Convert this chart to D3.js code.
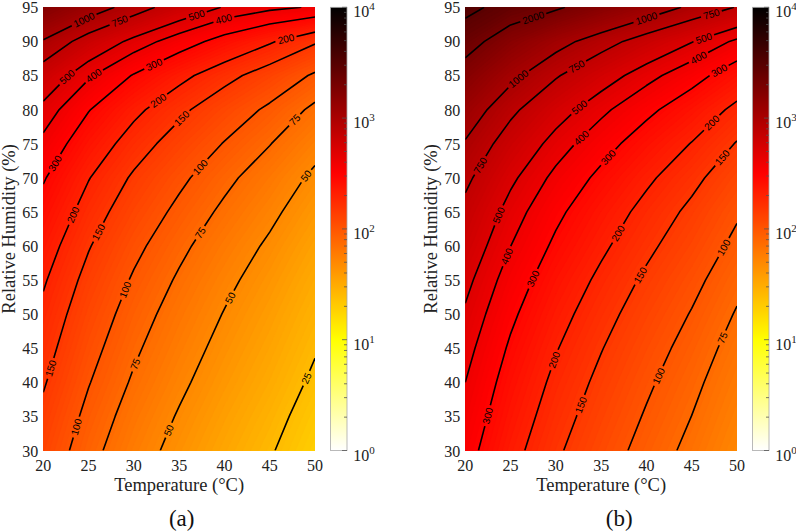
<!DOCTYPE html>
<html><head><meta charset="utf-8">
<script src="https://cdn.jsdelivr.net/npm/d3@7"></script>
<style>body{margin:0;background:#fff}svg{display:block}</style>
</head><body>
<svg id="chart" width="796" height="531"></svg>
<script>
// ---------------- data ----------------
const temperatures = [20, 25, 30, 35, 40, 45, 50];
const humidities = [30, 35, 40, 45, 50, 55, 60, 65, 70, 75, 80, 85, 90, 95];
const xTickValues = [20, 25, 30, 35, 40, 45, 50];
const yTickValues = [30, 35, 40, 45, 50, 55, 60, 65, 70, 75, 80, 85, 90, 95];
const colorbarExponents = [0, 1, 2, 3, 4];
const contourLevels = [25, 50, 75, 100, 150, 200, 300, 400, 500, 750, 1000, 2000, 3000];
const panelNames = ["(a)", "(b)"];

// log10 of the plotted value: one row per humidity (30 -> 95), one column per temperature (20 -> 50)
const log10Grid_a = [
  [2.105, 1.923, 1.773, 1.646, 1.526, 1.413, 1.285],
  [2.145, 1.963, 1.813, 1.686, 1.566, 1.453, 1.325],
  [2.189, 2.007, 1.857, 1.730, 1.610, 1.497, 1.369],
  [2.230, 2.048, 1.898, 1.771, 1.651, 1.538, 1.410],
  [2.271, 2.089, 1.939, 1.812, 1.692, 1.579, 1.451],
  [2.316, 2.134, 1.984, 1.857, 1.737, 1.624, 1.496],
  [2.367, 2.185, 2.035, 1.908, 1.788, 1.675, 1.547],
  [2.426, 2.244, 2.094, 1.967, 1.847, 1.734, 1.606],
  [2.489, 2.307, 2.157, 2.030, 1.910, 1.797, 1.669],
  [2.572, 2.390, 2.240, 2.113, 1.993, 1.880, 1.752],
  [2.666, 2.484, 2.334, 2.207, 2.087, 1.974, 1.846],
  [2.800, 2.618, 2.468, 2.341, 2.221, 2.108, 1.980],
  [2.988, 2.811, 2.666, 2.543, 2.426, 2.317, 2.193],
  [3.230, 3.080, 2.940, 2.800, 2.690, 2.630, 2.590]
];
const log10Grid_b = [
  [2.530, 2.348, 2.198, 2.071, 1.951, 1.838, 1.710],
  [2.566, 2.384, 2.234, 2.107, 1.987, 1.874, 1.746],
  [2.602, 2.420, 2.270, 2.143, 2.023, 1.910, 1.782],
  [2.641, 2.459, 2.309, 2.182, 2.062, 1.949, 1.821],
  [2.684, 2.502, 2.352, 2.225, 2.105, 1.992, 1.864],
  [2.731, 2.549, 2.399, 2.272, 2.152, 2.039, 1.911],
  [2.785, 2.603, 2.453, 2.326, 2.206, 2.093, 1.965],
  [2.838, 2.656, 2.506, 2.379, 2.259, 2.146, 2.018],
  [2.905, 2.723, 2.573, 2.446, 2.326, 2.213, 2.085],
  [2.988, 2.806, 2.656, 2.529, 2.409, 2.296, 2.168],
  [3.088, 2.906, 2.756, 2.629, 2.509, 2.396, 2.268],
  [3.220, 3.038, 2.888, 2.761, 2.641, 2.528, 2.400],
  [3.376, 3.199, 3.054, 2.931, 2.814, 2.705, 2.581],
  [3.525, 3.410, 3.325, 3.206, 3.088, 2.973, 2.868]
];

// contour label anchors: [level, temperature, humidity]
const labelAnchors_a = [
  [1000, 24.6, 92.9], [750, 28.4, 93.1],
  [500, 22.4, 85.1], [500, 36.9, 93.9],
  [400, 25.3, 85.6], [400, 39.9, 93.4],
  [300, 20.7, 72.6], [300, 32.1, 87.0],
  [200, 22.9, 64.8], [200, 32.5, 81.7], [200, 46.7, 90.9],
  [150, 20.7, 42.1], [150, 25.7, 62.3], [150, 35.1, 79.0],
  [100, 23.5, 33.5], [100, 28.65, 53.8], [100, 36.9, 72.1],
  [75, 29.6, 43.0], [75, 36.9, 62.3], [75, 47.6, 78.7],
  [50, 33.8, 33.0], [50, 40.05, 52.8], [50, 48.9, 70.4],
  [25, 48.7, 40.8]
];
const labelAnchors_b = [
  [2000, 27.7, 92.7],
  [1000, 25.5, 85.1], [1000, 40.1, 93.0],
  [750, 21.3, 72.1], [750, 32.1, 86.8], [750, 47.2, 93.9],
  [500, 23.1, 64.8], [500, 32.3, 80.9], [500, 46.3, 90.6],
  [400, 24.2, 58.7], [400, 32.5, 76.3], [400, 45.6, 88.0],
  [300, 22.2, 35.2], [300, 27.0, 55.5], [300, 35.3, 73.6], [300, 47.8, 86.3],
  [200, 29.35, 43.5], [200, 36.3, 62.3], [200, 46.9, 78.5],
  [150, 32.3, 36.9], [150, 38.7, 56.2], [150, 48.1, 73.3],
  [100, 40.75, 41.3], [100, 48.1, 60.1],
  [75, 48.1, 46.7]
];

// ---------------- layout ----------------
const panels = [
  {grid: log10Grid_a, labels: labelAnchors_a, x0: 43.3, x1: 315, cb0: 330.5, cb1: 347, capX: 181.7},
  {grid: log10Grid_b, labels: labelAnchors_b, x0: 465.3, x1: 737, cb0: 752.5, cb1: 769, capX: 619.2}
];
const yTop = 7.3, yBot = 450.5;
const SERIF = '"Liberation Serif","Times New Roman",serif';
const SANS = '"Liberation Sans",Arial,sans-serif';
const LABEL_PX = 10;

function hotR(t) { // flipped MATLAB "hot": 0 -> white, 1 -> black
  const u = 1 - Math.max(0, Math.min(1, t));
  const c = v => Math.round(255 * Math.max(0, Math.min(1, v)));
  return `rgb(${c(u / 0.375)},${c((u - 0.375) / 0.375)},${c((u - 0.75) / 0.25)})`;
}

const svg = d3.select("#chart");
const defs = svg.append("defs");
const grad = defs.append("linearGradient").attr("id", "hotGrad")
  .attr("x1", 0).attr("y1", 1).attr("x2", 0).attr("y2", 0);
d3.range(0, 1.0001, 0.01).forEach(t => grad.append("stop").attr("offset", t).attr("stop-color", hotR(t)));

const W = temperatures.length, H = humidities.length;
const dT = temperatures[1] - temperatures[0], dRH = humidities[1] - humidities[0];

panels.forEach((P, pi) => {
  const xs = d3.scaleLinear().domain([temperatures[0], temperatures[W - 1]]).range([P.x0, P.x1]);
  const ys = d3.scaleLinear().domain([humidities[0], humidities[H - 1]]).range([yBot, yTop]);
  const flat = P.grid.flat();
  const gen = d3.contours().size([W, H]);
  const toPix = p => [xs(temperatures[0] + (p[0] - 0.5) * dT), ys(humidities[0] + (p[1] - 0.5) * dRH)];
  const g = svg.append("g");

  const clipId = "clip" + pi;
  defs.append("clipPath").attr("id", clipId).append("rect")
    .attr("x", P.x0).attr("y", yTop).attr("width", P.x1 - P.x0).attr("height", yBot - yTop);

  // filled bands
  const step = 0.02;
  const thr = d3.range(1.0, 3.8, step);
  const fills = gen.thresholds(thr)(flat);
  const fg = g.append("g").attr("clip-path", `url(#${clipId})`);
  fills.forEach(c => {
    if (!c.coordinates.length) return;
    let s = "";
    for (const poly of c.coordinates) for (const ring of poly) {
      ring.forEach((p, i) => { const q = toPix(p); s += (i ? "L" : "M") + q[0].toFixed(2) + "," + q[1].toFixed(2); });
      s += "Z";
    }
    fg.append("path").attr("d", s).attr("fill", hotR((c.value + step / 2) / 4))
      .attr("fill-rule", "evenodd").attr("stroke", hotR((c.value + step / 2) / 4)).attr("stroke-width", 0.3);
  });

  // isolines
  const inside = p => p[0] >= 0.5 - 1e-6 && p[0] <= W - 0.5 + 1e-6 && p[1] >= 0.5 - 1e-6 && p[1] <= H - 0.5 + 1e-6;
  function isolineRuns(level) {
    const mp = gen.thresholds([Math.log10(level)])(flat)[0];
    const runs = [];
    for (const poly of mp.coordinates) for (let ring of poly) {
      ring = ring.slice();
      const f = ring[0], l = ring[ring.length - 1];
      if (ring.length > 1 && f[0] === l[0] && f[1] === l[1]) ring.pop();
      const n = ring.length;
      const start = ring.findIndex(p => !inside(p));
      if (start < 0) { const pts = ring.map(toPix); pts.push(pts[0]); runs.push(pts); continue; }
      let cur = [];
      for (let k = 1; k <= n; k++) {
        const p = ring[(start + k) % n];
        if (inside(p)) cur.push(toPix(p));
        else { if (cur.length > 1) runs.push(cur); cur = []; }
      }
      if (cur.length > 1) runs.push(cur);
    }
    return runs;
  }
  const cumLen = run => { const c = [0]; for (let k = 1; k < run.length; k++) c.push(c[k - 1] + Math.hypot(run[k][0] - run[k - 1][0], run[k][1] - run[k - 1][1])); return c; };
  function pointAt(run, cl, s) {
    s = Math.max(0, Math.min(cl[cl.length - 1], s));
    let k = d3.bisectRight(cl, s) - 1;
    if (k >= run.length - 1) k = run.length - 2;
    if (k < 0) k = 0;
    const seg = cl[k + 1] - cl[k], t = seg ? (s - cl[k]) / seg : 0;
    return [run[k][0] + t * (run[k + 1][0] - run[k][0]), run[k][1] + t * (run[k + 1][1] - run[k][1])];
  }

  const lg = g.append("g").attr("clip-path", `url(#${clipId})`);
  const tg = g.append("g");
  const line = d3.line();
  contourLevels.forEach(level => {
    const runs = isolineRuns(level);
    if (!runs.length) return;
    const cls = runs.map(cumLen);
    const gaps = runs.map(() => []);
    P.labels.filter(a => a[0] === level).forEach(a => {
      const Q = [xs(a[1]), ys(a[2])];
      let best = null;
      runs.forEach((run, ri) => {
        const cl = cls[ri];
        for (let k = 0; k < run.length - 1; k++) {
          const A = run[k], B = run[k + 1];
          const dx = B[0] - A[0], dy = B[1] - A[1], L2 = dx * dx + dy * dy;
          let t = L2 ? ((Q[0] - A[0]) * dx + (Q[1] - A[1]) * dy) / L2 : 0;
          t = Math.max(0, Math.min(1, t));
          const qx = A[0] + t * dx, qy = A[1] + t * dy;
          const d = (qx - Q[0]) ** 2 + (qy - Q[1]) ** 2;
          if (!best || d < best.d) best = {d, ri, s: cl[k] + t * Math.sqrt(L2), x: qx, y: qy};
        }
      });
      if (!best) return;
      const run = runs[best.ri], cl = cls[best.ri];
      const p1 = pointAt(run, cl, best.s - 8), p2 = pointAt(run, cl, best.s + 8);
      let ang = Math.atan2(p2[1] - p1[1], p2[0] - p1[0]) * 180 / Math.PI;
      if (ang > 90) ang -= 180;
      if (ang < -90) ang += 180;
      const txt = String(level);
      const hw = txt.length * LABEL_PX * 0.556 / 2 + 2.5;
      gaps[best.ri].push([best.s - hw, best.s + hw]);
      tg.append("text").attr("transform", `translate(${best.x.toFixed(2)},${best.y.toFixed(2)}) rotate(${ang.toFixed(1)})`)
        .attr("text-anchor", "middle").attr("dy", "0.36em")
        .style("font-family", SANS).style("font-size", LABEL_PX + "px").attr("fill", "#000").text(txt);
    });
    runs.forEach((run, ri) => {
      const cl = cls[ri], total = cl[cl.length - 1];
      const gs = gaps[ri].sort((a, b) => a[0] - b[0]);
      const keep = []; let a = 0;
      for (const gp of gs) { if (gp[0] > a) keep.push([a, gp[0]]); a = Math.max(a, gp[1]); }
      if (a < total) keep.push([a, total]);
      keep.forEach(([s0, s1]) => {
        const pts = [pointAt(run, cl, s0)];
        for (let k = 0; k < run.length; k++) if (cl[k] > s0 && cl[k] < s1) pts.push(run[k]);
        pts.push(pointAt(run, cl, s1));
        lg.append("path").attr("d", line(pts)).attr("fill", "none").attr("stroke", "#000")
          .attr("stroke-width", 1.6).attr("stroke-linejoin", "round");
      });
    });
  });

  // axes tick labels
  yTickValues.forEach(v => g.append("text").attr("x", P.x0 - 5).attr("y", ys(v) + 6)
    .attr("text-anchor", "end").style("font-family", SERIF).style("font-size", "16px").attr("fill", "#222").text(v));
  xTickValues.forEach(v => g.append("text").attr("x", xs(v)).attr("y", yBot + 20)
    .attr("text-anchor", "middle").style("font-family", SERIF).style("font-size", "16px").attr("fill", "#222").text(v));
  g.append("text").attr("x", (P.x0 + P.x1) / 2).attr("y", 490.5).attr("text-anchor", "middle")
    .style("font-family", SERIF).style("font-size", "18.5px").attr("fill", "#222").text("Temperature (°C)");
  g.append("text").attr("transform", `translate(${P.x0 - 28.5},${(yTop + yBot) / 2}) rotate(-90)`)
    .attr("text-anchor", "middle").style("font-family", SERIF).style("font-size", "18.5px").attr("fill", "#222")
    .text("Relative Humidity (%)");
  g.append("text").attr("x", P.capX).attr("y", 525.5).attr("text-anchor", "middle")
    .style("font-family", SERIF).style("font-size", "23px").attr("fill", "#111").text(panelNames[pi]);

  // colorbar
  const cy = d3.scaleLinear().domain([0, 4]).range([yBot, yTop]);
  g.append("rect").attr("x", P.cb0).attr("y", yTop).attr("width", P.cb1 - P.cb0).attr("height", yBot - yTop)
    .attr("fill", "url(#hotGrad)").attr("stroke", "#a8a8a8").attr("stroke-width", 0.8);
  colorbarExponents.forEach(e => {
    g.append("line").attr("x1", P.cb1 - 5).attr("x2", P.cb1).attr("y1", cy(e)).attr("y2", cy(e))
      .attr("stroke", "#555").attr("stroke-width", 0.8);
    if (e < 4) d3.range(2, 10).forEach(k => {
      const yy = cy(e + Math.log10(k));
      g.append("line").attr("x1", P.cb1 - 3).attr("x2", P.cb1).attr("y1", yy).attr("y2", yy)
        .attr("stroke", "#555").attr("stroke-width", 0.8);
    });
    const t = g.append("text").attr("x", P.cb1 + 6.3).attr("y", cy(e) + 10)
      .style("font-family", SERIF).style("font-size", "16px").attr("fill", "#222");
    t.append("tspan").text("10");
    t.append("tspan").attr("dy", -7).style("font-size", "11px").text(e);
  });
});
</script>
</body></html>
